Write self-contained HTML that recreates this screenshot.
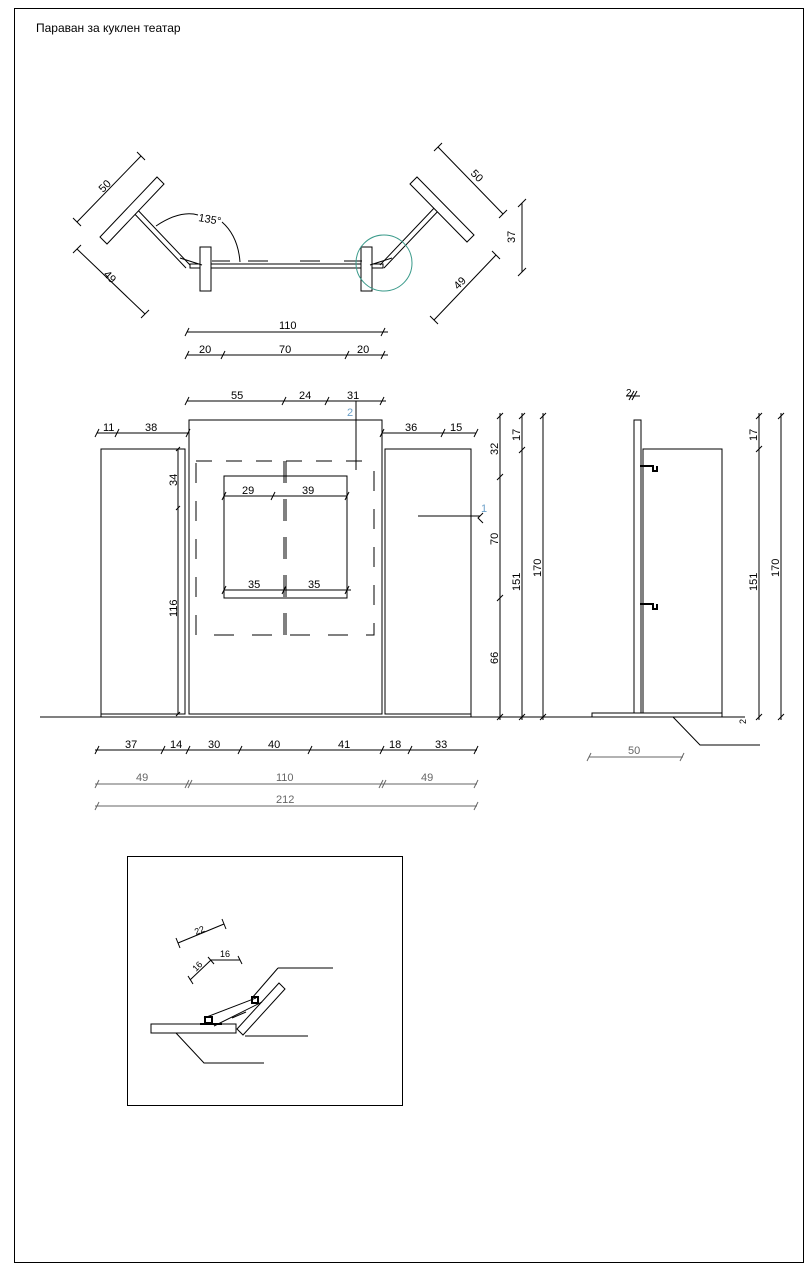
<!DOCTYPE html>
<html><head><meta charset="utf-8"><style>
html,body{margin:0;padding:0;background:#fff;}
svg{display:block;}
text{font-family:"Liberation Sans",sans-serif;font-size:11px;fill:#000;}
.g{fill:#666;}
</style></head><body>
<svg width="811" height="1270" viewBox="0 0 811 1270" xmlns="http://www.w3.org/2000/svg">
<rect x="14.5" y="8.5" width="789" height="1254" fill="none" stroke="#000" stroke-width="1"/>
<text x="36" y="32" style="font-size:12px">Параван за куклен театар</text>

<g stroke="#000" stroke-width="1" fill="none">
<!-- PLAN VIEW -->
<rect x="190" y="264" width="193" height="4"/>
<rect x="200" y="247" width="11" height="44" fill="#fff"/>
<rect x="361" y="247" width="11" height="44" fill="#fff"/>
<line x1="186" y1="268" x2="129" y2="208"/><line x1="190" y1="265" x2="133" y2="205"/>
<line x1="384" y1="268" x2="441" y2="208"/><line x1="380" y1="265" x2="437" y2="205"/>
<polygon points="100,237 107,244 164,184 157,177" fill="#fff"/>
<polygon points="410,184 417,177 474,235 467,242" fill="#fff"/>
<line x1="248" y1="261" x2="268" y2="261"/><line x1="300" y1="261" x2="320" y2="261"/>
<line x1="212" y1="261" x2="230" y2="261"/><line x1="344" y1="261" x2="362" y2="261"/>
<line x1="180" y1="258" x2="202" y2="265"/><line x1="392" y1="258" x2="370" y2="265"/>
<path d="M156,226 Q180,210 198,215"/><path d="M222,222 Q238,236 240,262"/>
<circle cx="384" cy="263" r="28" stroke="#3a9a8a"/>
<line x1="77" y1="222" x2="141" y2="156"/><line x1="73" y1="218" x2="81" y2="226"/><line x1="137" y1="152" x2="145" y2="160"/>
<line x1="77" y1="249" x2="145" y2="314"/><line x1="73" y1="253" x2="81" y2="245"/><line x1="141" y1="318" x2="149" y2="310"/>
<line x1="438" y1="147" x2="503" y2="214"/><line x1="434" y1="151" x2="442" y2="143"/><line x1="499" y1="218" x2="507" y2="210"/>
<line x1="434" y1="320" x2="496" y2="255"/><line x1="430" y1="316" x2="438" y2="324"/><line x1="492" y1="251" x2="500" y2="259"/>
<line x1="522" y1="203" x2="522" y2="272"/><line x1="518" y1="207" x2="526" y2="199"/><line x1="518" y1="276" x2="526" y2="268"/>
<line x1="187" y1="332" x2="388" y2="332"/><line x1="185" y1="336" x2="189" y2="328"/><line x1="381" y1="336" x2="385" y2="328"/>
<line x1="187" y1="355" x2="388" y2="355"/><line x1="185" y1="359" x2="189" y2="351"/><line x1="221" y1="359" x2="225" y2="351"/><line x1="345" y1="359" x2="349" y2="351"/><line x1="381" y1="359" x2="385" y2="351"/>

<!-- FRONT ELEVATION -->
<line x1="40" y1="717" x2="560" y2="717"/>
<rect x="101" y="449" width="77" height="265"/>
<rect x="178" y="449" width="7" height="265"/>
<rect x="189" y="420" width="193" height="294"/>
<rect x="385" y="449" width="86" height="265"/>
<line x1="101" y1="714" x2="101" y2="717"/><line x1="471" y1="714" x2="471" y2="717"/>
<path d="M196,461 H374" stroke-dasharray="16,14"/>
<path d="M196,463 V635 H374 V463" stroke-dasharray="20,18"/>
<line x1="284" y1="461" x2="284" y2="635" stroke-dasharray="22,16"/>
<line x1="286" y1="461" x2="286" y2="635" stroke-dasharray="22,16"/>
<rect x="224" y="476" width="123" height="122"/>
<line x1="187" y1="401" x2="386" y2="401"/><line x1="185" y1="405" x2="189" y2="397"/><line x1="282" y1="405" x2="286" y2="397"/><line x1="325" y1="405" x2="329" y2="397"/><line x1="380" y1="405" x2="384" y2="397"/>
<line x1="356" y1="401" x2="356" y2="470"/>
<line x1="97" y1="433" x2="189" y2="433"/><line x1="95" y1="437" x2="99" y2="429"/><line x1="115" y1="437" x2="119" y2="429"/><line x1="186" y1="437" x2="190" y2="429"/>
<line x1="382" y1="433" x2="476" y2="433"/><line x1="380" y1="437" x2="384" y2="429"/><line x1="441" y1="437" x2="445" y2="429"/><line x1="474" y1="437" x2="478" y2="429"/>
<line x1="224" y1="496" x2="347" y2="496"/><line x1="222" y1="500" x2="226" y2="492"/><line x1="271" y1="500" x2="275" y2="492"/><line x1="345" y1="500" x2="349" y2="492"/>
<line x1="224" y1="590" x2="351" y2="590"/><line x1="222" y1="594" x2="226" y2="586"/><line x1="282" y1="594" x2="286" y2="586"/><line x1="345" y1="594" x2="349" y2="586"/>
<line x1="176" y1="451" x2="180" y2="447"/><line x1="176" y1="510" x2="180" y2="506"/><line x1="176" y1="716" x2="180" y2="712"/>
<line x1="418" y1="516" x2="480" y2="516"/><path d="M483,513 L478,518 L483,523"/>
<line x1="500" y1="413" x2="500" y2="720"/><line x1="497" y1="419" x2="503" y2="413"/><line x1="497" y1="480" x2="503" y2="474"/><line x1="497" y1="601" x2="503" y2="595"/><line x1="497" y1="720" x2="503" y2="714"/>
<line x1="522" y1="413" x2="522" y2="720"/><line x1="519" y1="419" x2="525" y2="413"/><line x1="519" y1="453" x2="525" y2="447"/><line x1="519" y1="720" x2="525" y2="714"/>
<line x1="543" y1="413" x2="543" y2="720"/><line x1="540" y1="419" x2="546" y2="413"/><line x1="540" y1="720" x2="546" y2="714"/>
<line x1="95" y1="750" x2="477" y2="750"/>
<g><line x1="95" y1="754" x2="99" y2="746"/><line x1="161" y1="754" x2="165" y2="746"/><line x1="186" y1="754" x2="190" y2="746"/><line x1="238" y1="754" x2="242" y2="746"/><line x1="308" y1="754" x2="312" y2="746"/><line x1="380" y1="754" x2="384" y2="746"/><line x1="408" y1="754" x2="412" y2="746"/><line x1="474" y1="754" x2="478" y2="746"/></g>
<g stroke="#666"><line x1="95" y1="784" x2="477" y2="784"/><line x1="95" y1="788" x2="99" y2="780"/><line x1="185" y1="788" x2="189" y2="780"/><line x1="188" y1="788" x2="192" y2="780"/><line x1="379" y1="788" x2="383" y2="780"/><line x1="382" y1="788" x2="386" y2="780"/><line x1="474" y1="788" x2="478" y2="780"/>
<line x1="95" y1="806" x2="477" y2="806"/><line x1="95" y1="810" x2="99" y2="802"/><line x1="474" y1="810" x2="478" y2="802"/></g>

<!-- SIDE VIEW -->
<line x1="560" y1="717" x2="745" y2="717"/>
<rect x="634" y="420" width="7" height="293"/>
<rect x="643" y="449" width="79" height="264"/>
<rect x="592" y="713" width="130" height="4"/>
<path d="M640,466 H653 V471 H657 V466" stroke-width="2"/>
<path d="M640,604 H653 V609 H657 V604" stroke-width="2"/>
<line x1="759" y1="413" x2="759" y2="720"/><line x1="756" y1="419" x2="762" y2="413"/><line x1="756" y1="452" x2="762" y2="446"/><line x1="756" y1="720" x2="762" y2="714"/>
<line x1="781" y1="413" x2="781" y2="720"/><line x1="778" y1="419" x2="784" y2="413"/><line x1="778" y1="720" x2="784" y2="714"/>
<polyline points="673,717 700,745 760,745"/>
<line x1="629" y1="400" x2="634" y2="391"/><line x1="632" y1="400" x2="637" y2="391"/><line x1="626" y1="396" x2="640" y2="396"/>
<g stroke="#666"><line x1="589" y1="757" x2="683" y2="757"/><line x1="587" y1="761" x2="591" y2="753"/><line x1="680" y1="761" x2="684" y2="753"/></g>

<!-- DETAIL -->
<rect x="127.5" y="856.5" width="275" height="249"/>
<rect x="151" y="1024" width="85" height="9"/>
<polygon points="237,1029 243,1035 285,989 279,983"/>
<line x1="278" y1="968" x2="333" y2="968"/><line x1="278" y1="968" x2="252" y2="998"/>
<line x1="245" y1="1036" x2="308" y2="1036"/>
<polyline points="176,1033 204,1063 264,1063"/>
<line x1="178" y1="943" x2="224" y2="924"/><line x1="176" y1="938" x2="180" y2="948"/><line x1="222" y1="919" x2="226" y2="929"/>
<line x1="190" y1="980" x2="211" y2="960"/><line x1="211" y1="960" x2="240" y2="960"/><line x1="188" y1="976" x2="193" y2="984"/><line x1="208" y1="957" x2="214" y2="964"/><line x1="238" y1="956" x2="242" y2="964"/>
<line x1="204" y1="1018" x2="256" y2="998"/><line x1="214" y1="1026" x2="262" y2="1002"/><line x1="232" y1="1018" x2="246" y2="1012"/>
<rect x="205" y="1017" width="7" height="6" stroke-width="2"/><rect x="252" y="997" width="6" height="6" stroke-width="2"/>
<line x1="200" y1="1024" x2="222" y2="1024" stroke-width="2"/>
</g>

<g>
<text x="103" y="193" transform="rotate(-45 103 193)">50</text>
<text x="103" y="275" transform="rotate(45 103 275)">49</text>
<text x="470" y="174" transform="rotate(45 470 174)">50</text>
<text x="458" y="290" transform="rotate(-45 458 290)">49</text>
<text x="515" y="243" transform="rotate(-90 515 243)">37</text>
<text x="198" y="221" transform="rotate(10 198 221)">135°</text>
<text x="279" y="329">110</text>
<text x="199" y="353">20</text><text x="279" y="353">70</text><text x="357" y="353">20</text>
<text x="231" y="399">55</text><text x="299" y="399">24</text><text x="347" y="399">31</text>
<text x="347" y="416" style="fill:#6a9fc8">2</text>
<text x="103" y="431">11</text><text x="145" y="431">38</text>
<text x="405" y="431">36</text><text x="450" y="431">15</text>
<text x="242" y="494">29</text><text x="302" y="494">39</text>
<text x="248" y="588">35</text><text x="308" y="588">35</text>
<text x="481" y="512" style="fill:#6a9fc8">1</text>
<text x="177" y="486" transform="rotate(-90 177 486)">34</text>
<text x="177" y="617" transform="rotate(-90 177 617)">116</text>
<text x="498" y="455" transform="rotate(-90 498 455)">32</text>
<text x="498" y="545" transform="rotate(-90 498 545)">70</text>
<text x="498" y="664" transform="rotate(-90 498 664)">66</text>
<text x="520" y="441" transform="rotate(-90 520 441)">17</text>
<text x="520" y="591" transform="rotate(-90 520 591)">151</text>
<text x="541" y="577" transform="rotate(-90 541 577)">170</text>
<text x="125" y="748">37</text><text x="170" y="748">14</text><text x="208" y="748">30</text><text x="268" y="748">40</text><text x="338" y="748">41</text><text x="389" y="748">18</text><text x="435" y="748">33</text>
<text class="g" x="136" y="781">49</text><text class="g" x="276" y="781">110</text><text class="g" x="421" y="781">49</text>
<text class="g" x="276" y="803">212</text>
<text x="626" y="396" style="font-size:10px">2</text>
<text x="757" y="441" transform="rotate(-90 757 441)">17</text>
<text x="757" y="591" transform="rotate(-90 757 591)">151</text>
<text x="779" y="577" transform="rotate(-90 779 577)">170</text>
<text x="746" y="724" transform="rotate(-90 746 724)" style="font-size:9px">2</text>
<text class="g" x="628" y="754">50</text>
<text x="196" y="935" transform="rotate(-22 196 935)" style="font-size:9px">22</text>
<text x="196" y="972" transform="rotate(-45 196 972)" style="font-size:9px">16</text>
<text x="220" y="957" style="font-size:9px">16</text>
</g>
</svg>
</body></html>
